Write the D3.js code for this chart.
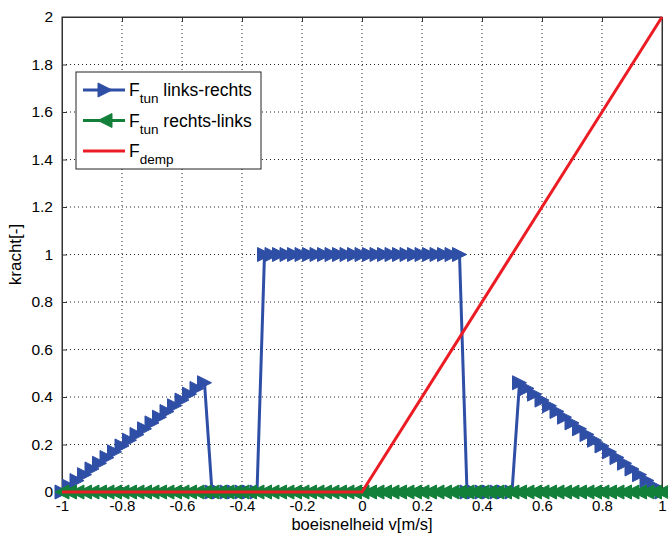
<!DOCTYPE html>
<html>
<head>
<meta charset="utf-8">
<script src="https://cdn.jsdelivr.net/npm/d3@7"></script>
<style>
	body { margin: 0; background: #fff; }
	svg { font-family: "Liberation Sans", Arial, sans-serif; }
</style>
</head>
<body>
<div id="chart"></div>
<script>
'use strict';

// boeisnelheid v [m/s] (sample points of the simulation)
var vSpeed = [
	-1, -0.975, -0.95, -0.925, -0.9, -0.875, -0.85, -0.825, -0.8, -0.775,
	-0.75, -0.725, -0.7, -0.675, -0.65, -0.625, -0.6, -0.575, -0.55, -0.525,
	-0.5, -0.475, -0.45, -0.425, -0.4, -0.375, -0.35,
	-0.325, -0.3, -0.275, -0.25, -0.225, -0.2, -0.175, -0.15, -0.125, -0.1,
	-0.075, -0.05, -0.025, 0, 0.025, 0.05, 0.075, 0.1, 0.125, 0.15, 0.175,
	0.2, 0.225, 0.25, 0.275, 0.3, 0.325,
	0.35, 0.375, 0.4, 0.425, 0.45, 0.475, 0.5,
	0.525, 0.55, 0.575, 0.6, 0.625, 0.65, 0.675, 0.7, 0.725, 0.75,
	0.775, 0.8, 0.825, 0.85, 0.875, 0.9, 0.925, 0.95, 0.975, 1
];

// F_tun links-rechts
var fTunLR = [
	0, 0.024, 0.048, 0.073, 0.097, 0.121, 0.145, 0.169, 0.194, 0.218,
	0.242, 0.266, 0.291, 0.315, 0.339, 0.363, 0.387, 0.412, 0.436, 0.46,
	0, 0, 0, 0, 0, 0, 0,
	1, 1, 1, 1, 1, 1, 1, 1, 1, 1,
	1, 1, 1, 1, 1, 1, 1, 1, 1, 1, 1,
	1, 1, 1, 1, 1, 1,
	0, 0, 0, 0, 0, 0, 0,
	0.46, 0.436, 0.412, 0.387, 0.363, 0.339, 0.315, 0.291, 0.266, 0.242,
	0.218, 0.194, 0.169, 0.145, 0.121, 0.097, 0.073, 0.048, 0.024, 0
];

// F_tun rechts-links
var fTunRL = [
	0, 0, 0, 0, 0, 0, 0, 0, 0, 0,
	0, 0, 0, 0, 0, 0, 0, 0, 0, 0,
	0, 0, 0, 0, 0, 0, 0,
	0, 0, 0, 0, 0, 0, 0, 0, 0, 0,
	0, 0, 0, 0, 0, 0, 0, 0, 0, 0, 0,
	0, 0, 0, 0, 0, 0,
	0, 0, 0, 0, 0, 0, 0,
	0, 0, 0, 0, 0, 0, 0, 0, 0, 0,
	0, 0, 0, 0, 0, 0, 0, 0, 0, 0
];

// F_demp
var dempSpeed = [-1, 0, 1];
var fDemp = [0, 0, 2];

var xTicks = [-1, -0.8, -0.6, -0.4, -0.2, 0, 0.2, 0.4, 0.6, 0.8, 1];
var yTicks = [0, 0.2, 0.4, 0.6, 0.8, 1, 1.2, 1.4, 1.6, 1.8, 2];

var blue = "#2f4fa6", green = "#13803a", red = "#ec1c24";

var W = 668, H = 533;
var margin = {top: 17, right: 6, bottom: 41, left: 62};
var width = W - margin.left - margin.right;
var height = H - margin.top - margin.bottom;

var svg = d3.select("#chart")
	.append("svg")
	.attr("width", W)
	.attr("height", H);

var g = svg.append("g")
	.attr("transform", "translate(" + margin.left + "," + margin.top + ")");

var x = d3.scaleLinear().domain([-1, 1]).range([0, width]),
	y = d3.scaleLinear().domain([0, 2]).range([height, 0]);

// grid
g.append("g").selectAll("line").data(xTicks.slice(1, -1)).enter().append("line")
	.attr("x1", function(d) { return x(d); }).attr("x2", function(d) { return x(d); })
	.attr("y1", 0).attr("y2", height)
	.attr("stroke", "#222").attr("stroke-width", 1).attr("stroke-dasharray", "1,3");
g.append("g").selectAll("line").data(yTicks.slice(1, -1)).enter().append("line")
	.attr("y1", function(d) { return y(d); }).attr("y2", function(d) { return y(d); })
	.attr("x1", 0).attr("x2", width)
	.attr("stroke", "#222").attr("stroke-width", 1).attr("stroke-dasharray", "1,3");

// axes (ticks inside, like matlab)
var fmt = function(d) { return String(+d.toFixed(1)); };
var xAxis = d3.axisBottom(x).tickValues(xTicks).tickSizeInner(-5).tickSizeOuter(0).tickPadding(8).tickFormat(fmt);
var yAxis = d3.axisLeft(y).tickValues(yTicks).tickSizeInner(-5).tickSizeOuter(0).tickPadding(9).tickFormat(fmt);

g.append("g")
	.attr("class", "x axis")
	.attr("transform", "translate(0," + height + ")")
	.call(xAxis);
g.append("g")
	.attr("class", "y axis")
	.call(yAxis);
g.append("g")
	.call(d3.axisTop(x).tickValues(xTicks).tickSizeInner(-5).tickSizeOuter(0).tickFormat(""));
g.append("g")
	.attr("transform", "translate(" + width + ",0)")
	.call(d3.axisRight(y).tickValues(yTicks).tickSizeInner(-5).tickSizeOuter(0).tickFormat(""));

g.selectAll(".domain").attr("stroke", "#333");
g.selectAll(".tick line").attr("stroke", "#333");
g.selectAll(".tick text").attr("font-size", 15.5).attr("fill", "#000")
	.attr("font-family", "Liberation Sans, Arial, sans-serif");
g.select(".x.axis").selectAll(".tick text").attr("font-size", 15).attr("dy", "0.71em");

// box
g.append("rect")
	.attr("width", width).attr("height", height)
	.attr("fill", "none").attr("stroke", "#333").attr("stroke-width", 1);

// series
var lrData = vSpeed.map(function(v, i) { return [v, fTunLR[i]]; });
var rlData = vSpeed.map(function(v, i) { return [v, fTunRL[i]]; });
var dempData = dempSpeed.map(function(v, i) { return [v, fDemp[i]]; });

var line = d3.line()
	.x(function(d) { return x(d[0]); })
	.y(function(d) { return y(d[1]); });

var triRight = "M7,0L-7,-7L-7,7Z";
var triLeft = "M-7,0L7,-7L7,7Z";

function drawSeries(data, color, marker) {
	g.append("path")
		.datum(data)
		.attr("d", line)
		.attr("fill", "none")
		.attr("stroke", color)
		.attr("stroke-width", 3)
		.attr("stroke-linejoin", "round");
	if (marker) {
		g.append("g").selectAll("path").data(data).enter().append("path")
			.attr("d", marker)
			.attr("transform", function(d) { return "translate(" + x(d[0]) + "," + y(d[1]) + ")"; })
			.attr("fill", color)
			.attr("stroke", color)
			.attr("stroke-width", 1);
	}
}

drawSeries(lrData, blue, triRight);
drawSeries(rlData, green, triLeft);
drawSeries(dempData, red, null);

// axis labels
svg.append("text")
	.attr("x", margin.left + width / 2)
	.attr("y", 529.5)
	.attr("text-anchor", "middle")
	.attr("font-size", 16.5)
	.attr("fill", "#000")
	.text("boeisnelheid v[m/s]");
svg.append("text")
	.attr("transform", "translate(21," + (margin.top + height / 2) + ") rotate(-90)")
	.attr("text-anchor", "middle")
	.attr("font-size", 17)
	.attr("fill", "#000")
	.text("kracht[-]");

// legend
var legendItems = [
	{sub: "tun", label: " links-rechts", color: blue, marker: triRight},
	{sub: "tun", label: " rechts-links", color: green, marker: triLeft},
	{sub: "demp", label: "", color: red, marker: null}
];
var legend = svg.append("g").attr("transform", "translate(76,72)");
legend.append("rect")
	.attr("width", 185).attr("height", 97)
	.attr("fill", "#fff").attr("stroke", "#222").attr("stroke-width", 1);

var rows = legend.selectAll(".row").data(legendItems).enter().append("g")
	.attr("class", "row")
	.attr("transform", function(d, i) { return "translate(0," + (18 + i * 30.5) + ")"; });
rows.append("line")
	.attr("x1", 7).attr("x2", 49)
	.attr("stroke", function(d) { return d.color; })
	.attr("stroke-width", 3);
rows.filter(function(d) { return d.marker; }).append("path")
	.attr("d", function(d) { return d.marker; })
	.attr("transform", "translate(29,0)")
	.attr("fill", function(d) { return d.color; })
	.attr("stroke", function(d) { return d.color; });
var lt = rows.append("text")
	.attr("x", 53)
	.attr("y", 6)
	.attr("font-size", 17.5)
	.attr("fill", "#000");
lt.append("tspan").text("F");
lt.append("tspan").attr("font-size", 13.5).attr("dy", 7).text(function(d) { return d.sub; });
lt.append("tspan").attr("dy", -7).text(function(d) { return d.label; });
</script>
</body>
</html>
